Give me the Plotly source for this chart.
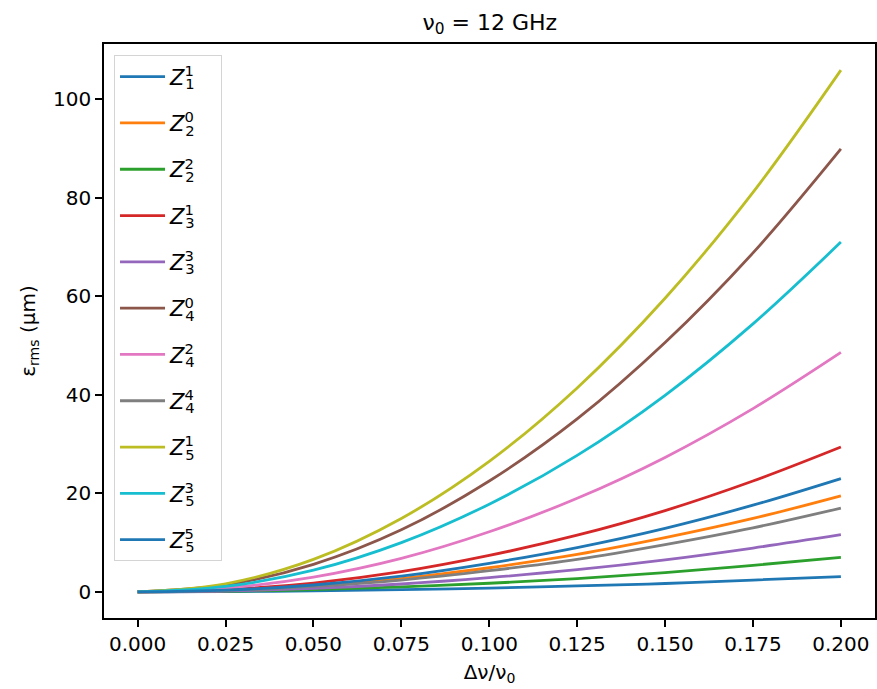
import plotly.graph_objects as go

x_vals = [0.0, 0.025, 0.05, 0.075, 0.1, 0.125, 0.15, 0.175, 0.2]

labels = [("1", "1"), ("0", "2"), ("2", "2"), ("1", "3"), ("3", "3"),
          ("0", "4"), ("2", "4"), ("4", "4"), ("1", "5"), ("3", "5"), ("5", "5")]

z1_1 = [0, 0.05, 0.19, 0.44, 0.78, 1.2, 1.7, 2.4, 3.1]
z2_0 = [0, 0.3, 1.2, 2.7, 4.9, 7.6, 11.0, 14.9, 19.5]
z2_2 = [0, 0.11, 0.44, 1.0, 1.75, 2.7, 3.9, 5.4, 7.0]
z3_1 = [0, 0.46, 1.8, 4.1, 7.4, 11.5, 16.5, 22.5, 29.4]
z3_3 = [0, 0.18, 0.7, 1.6, 2.9, 4.5, 6.5, 8.9, 11.6]
z4_0 = [0, 1.4, 5.6, 12.6, 22.5, 35.1, 50.6, 68.8, 89.9]
z4_2 = [0, 0.76, 3.0, 6.8, 12.2, 19.0, 27.3, 37.2, 48.6]
z4_4 = [0, 0.27, 1.1, 2.4, 4.3, 6.6, 9.6, 13.0, 17.0]
z5_1 = [0, 1.65, 6.6, 14.9, 26.5, 41.4, 59.6, 81.1, 105.9]
z5_3 = [0, 1.1, 4.4, 10.0, 17.8, 27.7, 39.9, 54.4, 71.0]
z5_5 = [0, 0.36, 1.4, 3.2, 5.8, 9.0, 12.9, 17.6, 23.0]

series = [z1_1, z2_0, z2_2, z3_1, z3_3, z4_0, z4_2, z4_4, z5_1, z5_3, z5_5]
colors = ["#1f77b4", "#ff7f0e", "#2ca02c", "#d62728", "#9467bd",
          "#8c564b", "#e377c2", "#7f7f7f", "#bcbd22", "#17becf", "#1f77b4"]

x_ticks = [0.0, 0.025, 0.05, 0.075, 0.1, 0.125, 0.15, 0.175, 0.2]
y_ticks = [0, 20, 40, 60, 80, 100]

FONT = "DejaVu Sans"

fig = go.Figure()
for i, ((sup, sub), ys, c) in enumerate(zip(labels, series, colors)):
    name = ("<i>Z</i><sup><span style='letter-spacing:-8.4px'>%s</span></sup>"
            "<sub>%s</sub>   " % (sup, sub))
    fig.add_trace(go.Scatter(
        x=x_vals, y=ys, mode="lines", name=name, legendgroup="g%02d" % i,
        line=dict(color=c, width=2.8, shape="spline"),
    ))

fig.update_layout(
    width=877, height=689,
    margin=dict(l=104, r=0, t=43.5, b=70.5),
    paper_bgcolor="white", plot_bgcolor="white",
    font=dict(family=FONT, size=20, color="black"),
    title=dict(text="ν<sub>0</sub> = 12 GHz", x=0.5585, xanchor="center",
               y=0.968, yanchor="middle", font=dict(size=22)),
    showlegend=True,
    legend=dict(x=0.013, y=0.98, xanchor="left", yanchor="top",
                bgcolor="rgba(255,255,255,0.8)", bordercolor="#d4d4d4",
                borderwidth=1, tracegroupgap=16, font=dict(size=21),
                traceorder="grouped", itemwidth=45),
)

fig.update_xaxes(
    range=[-0.00956, 0.2097], tickvals=x_ticks, tickformat=".3f",
    showgrid=False, zeroline=False, showline=True, linecolor="black",
    linewidth=1.6, mirror=True, ticks="outside", ticklen=7, tickwidth=1.6,
    tickcolor="black", tickfont=dict(size=20),
    title=dict(text="Δν/ν<sub>0</sub>", font=dict(size=20), standoff=10),
)
fig.update_yaxes(
    range=[-5.3, 111.2], tickvals=y_ticks,
    showgrid=False, zeroline=False, showline=True, linecolor="black",
    linewidth=1.6, mirror=True, ticks="outside", ticklen=7, tickwidth=1.6,
    tickcolor="black", tickfont=dict(size=20),
    title=dict(text="ε<sub>rms</sub> (μm)", font=dict(size=20), standoff=12),
)

fig.write_html("out.html")
